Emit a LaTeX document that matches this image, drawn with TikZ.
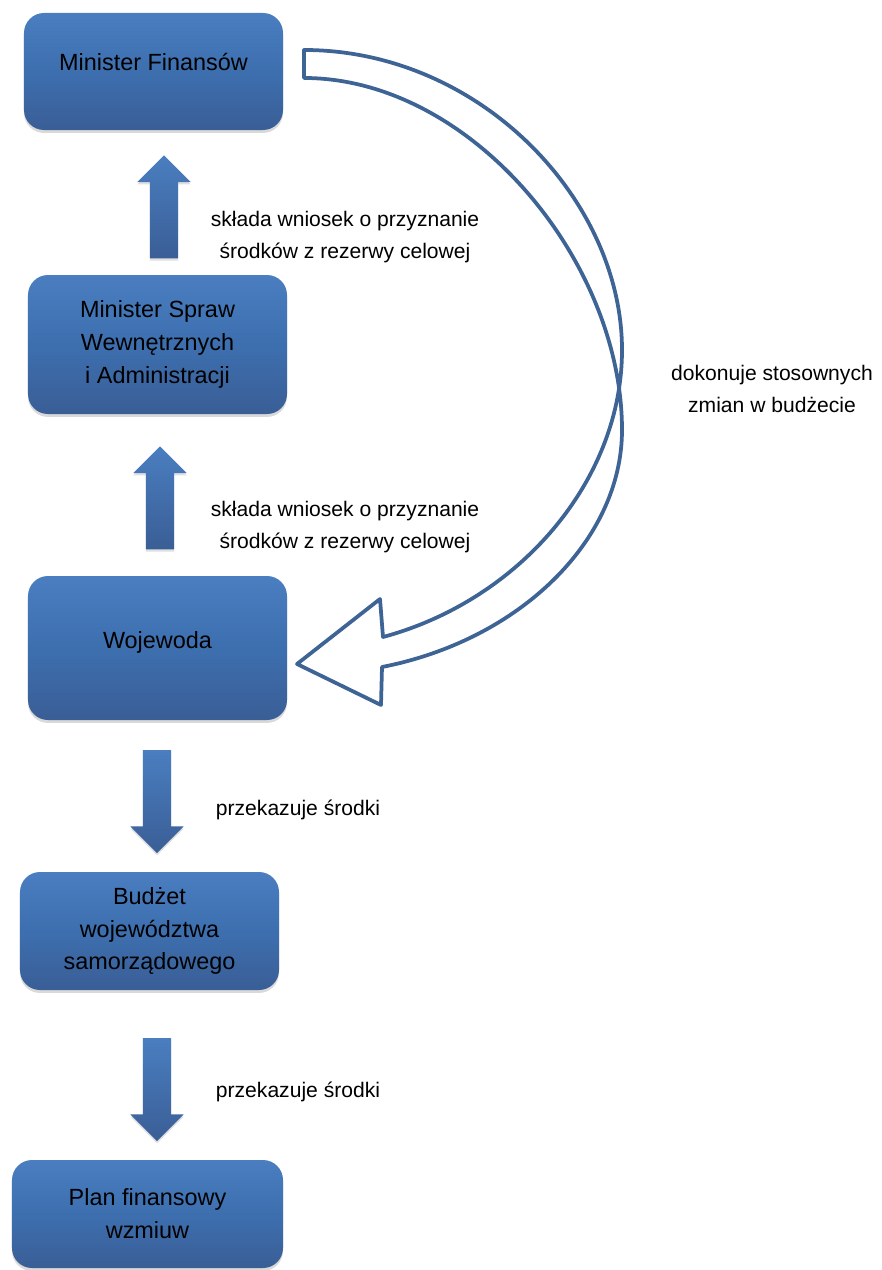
\documentclass[tikz,border=0pt]{standalone}
\usepackage{fontspec}
\setmainfont{Liberation Sans}
\usetikzlibrary{shapes.arrows,shadows}

\definecolor{boxtop}{HTML}{4A7EC0}
\definecolor{boxmid}{HTML}{3D6FAF}
\definecolor{boxbot}{HTML}{3A5E96}
\definecolor{bendline}{HTML}{3E6496}

\tikzset{
  unitbox/.style={rectangle, rounded corners=6mm, draw=none, top color=boxtop, bottom color=boxbot, middle color=boxmid,
    minimum width=77.7mm, align=center, text=black, font=\fontsize{20}{28}\selectfont,
    drop shadow={shadow xshift=0pt, shadow yshift=-2.5pt, opacity=0.3}},
  flowup/.style={single arrow, single arrow head extend=3.75mm, minimum height=30.9mm,
    inner sep=4.2mm, draw=none, top color=boxtop, bottom color=boxbot, shape border rotate=90,
    drop shadow={shadow xshift=0pt, shadow yshift=-2pt, opacity=0.25}},
  flowdown/.style={flowup, shape border rotate=270},
  note/.style={align=center, text=black, font=\fontsize{18}{27}\selectfont}
}

\begin{document}
\begin{tikzpicture}[x=0.3mm, y=-0.3mm]

\useasboundingbox (0,0) rectangle (881,1270);

\node [unitbox, minimum height=35.1mm, text depth=6mm] (finanse) at (153.5,71.5) {Minister Finansów};
\node [unitbox, minimum height=41.7mm] (mswia) at (157.5,344.5) {Minister Spraw\\Wewnętrznych\\i Administracji};
\node [unitbox, minimum height=43.2mm, text depth=4.8mm] (wojewoda) at (157.5,648) {Wojewoda};
\node [unitbox, minimum height=35.4mm] (budzet) at (149.5,931) {Budżet\\województwa\\samorządowego};
\node [unitbox, minimum height=32.4mm, minimum width=81.3mm] (plan) at (147.5,1214) {Plan finansowy\\wzmiuw};

\node [flowup] (up1) at (164,214) {};
\node [flowup] (up2) at (160,505) {};
\node [flowdown] (down1) at (157,794.5) {};
\node [flowdown] (down2) at (157,1082.5) {};

\node [note] (wniosek1) at (345,237) {składa wniosek o przyznanie\\środków z rezerwy celowej};
\node [note] (wniosek2) at (345,527) {składa wniosek o przyznanie\\środków z rezerwy celowej};
\node [note] (srodki1) at (298,810) {przekazuje środki};
\node [note] (srodki2) at (298,1092) {przekazuje środki};
\node [note] (zmiany) at (772,389) {dokonuje stosownych\\zmian w budżecie};

\draw [bendline, line width=3.2pt, line join=round]
  (304,50) -- (304,78) .. controls (470,78) and (622,260) .. (622,430)
  .. controls (622,540) and (520,640) .. (382,667) -- (381,705) -- (297,664) -- (380,599) -- (383,637)
  .. controls (520,600) and (622,480) .. (622,350) .. controls (622,200) and (480,50) .. (304,50) -- cycle;

\end{tikzpicture}
\end{document}
